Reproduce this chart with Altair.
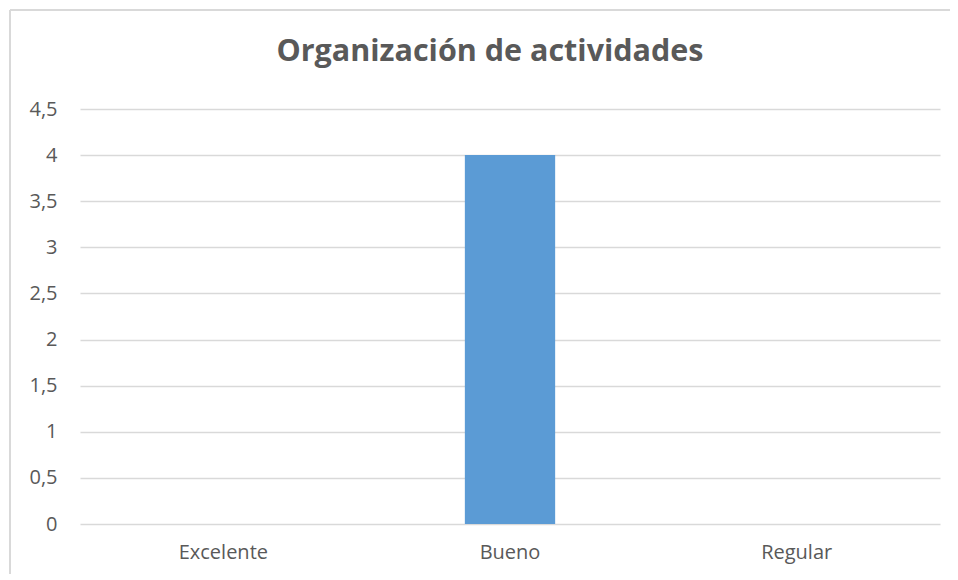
import altair as alt
import pandas as pd

categories = ["Excelente", "Bueno", "Regular"]
values = [0, 4, 0]
y_ticks = [0, 0.5, 1, 1.5, 2, 2.5, 3, 3.5, 4, 4.5]

df = pd.DataFrame({"cat": categories, "val": values})

FONT = "Open Sans"
TXT = "#595959"
GRID = "#D9D9D9"

bars = alt.Chart(df).mark_bar(color="#5B9BD5").encode(
    x=alt.X("cat:N", sort=categories, title=None,
            scale=alt.Scale(paddingInner=0.685, paddingOuter=0.3425),
            axis=alt.Axis(labelAngle=0, ticks=False, domain=False, grid=False,
                          labelPadding=18, labelFontSize=20, labelColor=TXT, labelFont=FONT)),
    y=alt.Y("val:Q", title=None,
            scale=alt.Scale(domain=[0, 4.5], nice=False),
            axis=alt.Axis(values=y_ticks, ticks=False, domain=False, grid=True,
                          gridColor=GRID, gridWidth=1.5,
                          labelExpr="replace(format(datum.value, '~g'), '.', ',')",
                          labelPadding=23, labelFontSize=20, labelColor=TXT, labelFont=FONT)),
)

frame = alt.Chart(df).mark_rule(color=GRID, strokeWidth=1.5).encode(
    x=alt.value(-70), x2=alt.value(-70), y=alt.value(-99), y2=alt.value(470)
)
frame_top = alt.Chart(df).mark_rule(color=GRID, strokeWidth=1.5).encode(
    x=alt.value(-70), x2=alt.value(880), y=alt.value(-99), y2=alt.value(-99)
)

chart = alt.layer(frame, frame_top, bars).properties(
    width=860, height=415,
    autosize=alt.AutoSizeParams(type="none"),
    padding={"left": 72, "top": 101, "right": 10, "bottom": 50},
    title=alt.TitleParams("Organización de actividades", anchor="middle",
                          font=FONT, fontSize=30.5, fontWeight="bold",
                          color=TXT, dx=-20, offset=-82, baseline="alphabetic"),
).configure_view(stroke=None)

chart.save("out.html", embed_options={"renderer": "svg", "actions": False})
